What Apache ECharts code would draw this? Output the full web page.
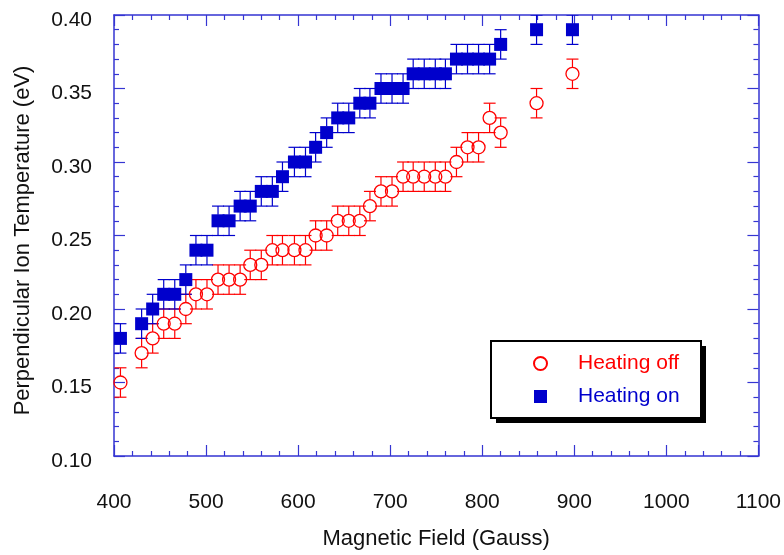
<!DOCTYPE html>
<html>
<head>
<meta charset="utf-8">
<title>Perpendicular Ion Temperature vs Magnetic Field</title>
<script src="https://cdn.jsdelivr.net/npm/echarts@6/dist/echarts.min.js"></script>
<style>
  html, body { margin: 0; padding: 0; background: #ffffff; }
  #chart { width: 784px; height: 555px; }
</style>
</head>
<body>
<div id="chart"></div>
<script>
// Magnetic field settings (Gauss) shared by both measurement runs
const fieldGauss = [407, 430, 442, 454, 466, 478, 489, 501, 513, 525, 537, 548, 560, 572, 583,
  596, 608, 619, 631, 643, 655, 667, 678, 690, 702, 714, 725, 737, 749, 760, 772, 784, 796,
  808, 820, 859, 898];

// Perpendicular ion temperature (eV), heating off
const tempHeatingOff = [0.15, 0.17, 0.18, 0.19, 0.19, 0.20, 0.21, 0.21, 0.22, 0.22, 0.22, 0.23,
  0.23, 0.24, 0.24, 0.24, 0.24, 0.25, 0.25, 0.26, 0.26, 0.26, 0.27, 0.28, 0.28, 0.29, 0.29,
  0.29, 0.29, 0.29, 0.30, 0.31, 0.31, 0.33, 0.32, 0.34, 0.36];

// Perpendicular ion temperature (eV), heating on
const tempHeatingOn = [0.18, 0.19, 0.20, 0.21, 0.21, 0.22, 0.24, 0.24, 0.26, 0.26, 0.27, 0.27,
  0.28, 0.28, 0.29, 0.30, 0.30, 0.31, 0.32, 0.33, 0.33, 0.34, 0.34, 0.35, 0.35, 0.35, 0.36,
  0.36, 0.36, 0.36, 0.37, 0.37, 0.37, 0.37, 0.38, 0.39, 0.39];

// Measurement uncertainty (eV) for each run
const errHeatingOff = 0.01;
const errHeatingOn = 0.01;

// Axis ranges and labels
const xRange = [400, 1100];
const xStep = 100;
const yRange = [0.10, 0.40];
const yStep = 0.05;
const seriesNames = ['Heating off', 'Heating on'];
const xTitle = 'Magnetic Field (Gauss)';
const yTitle = 'Perpendicular Ion Temperature (eV)';

const RED = '#ff0000';
const BLUE = '#0000cc';
const FRAME = '#3535d2';
const FONT = '"Liberation Sans", Arial, Helvetica, sans-serif';

function points(ys) {
  return fieldGauss.map((x, i) => [x, ys[i]]);
}
function bars(ys, err) {
  return fieldGauss.map((x, i) => [x, ys[i] - err, ys[i] + err, ys[i]]);
}

// Error bar: vertical whisker with caps, kept outside the marker body
function errorBarRenderer(color, markerHalf) {
  return function (params, api) {
    const x = api.value(0);
    const lo = api.coord([x, api.value(1)]);
    const hi = api.coord([x, api.value(2)]);
    const mid = api.coord([x, api.value(3)]);
    const half = 6;
    const style = { stroke: color, lineWidth: 1.2 };
    const shapes = [
      { type: 'line', shape: { x1: hi[0], y1: hi[1], x2: mid[0], y2: mid[1] - markerHalf }, style },
      { type: 'line', shape: { x1: mid[0], y1: mid[1] + markerHalf, x2: lo[0], y2: lo[1] }, style },
      { type: 'line', shape: { x1: hi[0] - half, y1: hi[1], x2: hi[0] + half, y2: hi[1] }, style },
      { type: 'line', shape: { x1: lo[0] - half, y1: lo[1], x2: lo[0] + half, y2: lo[1] }, style }
    ];
    return { type: 'group', children: shapes };
  };
}

const chart = echarts.init(document.getElementById('chart'), null, { renderer: 'canvas' });

const frameLine = { show: true, onZero: false, lineStyle: { color: FRAME, width: 1.5 } };
const tickX = { show: true, inside: true, length: 11, lineStyle: { color: FRAME, width: 1.2 } };
const minorX = { show: true, splitNumber: 5, length: 5, lineStyle: { color: FRAME, width: 1.2 } };

// Legend frame: white box with a solid drop shadow
const legendBox = { x: 491, y: 341, w: 210, h: 77, shadow: 5 };

const option = {
  backgroundColor: '#ffffff',
  animation: false,
  textStyle: { fontFamily: FONT },
  grid: { left: 114, right: 25, top: 15, bottom: 97, containLabel: false },
  graphic: [
    {
      type: 'rect', z: 90,
      shape: { x: legendBox.x + legendBox.shadow, y: legendBox.y + legendBox.shadow, width: legendBox.w, height: legendBox.h },
      style: { fill: '#000000' }
    },
    {
      type: 'rect', z: 91,
      shape: { x: legendBox.x, y: legendBox.y, width: legendBox.w, height: legendBox.h },
      style: { fill: '#ffffff', stroke: '#000000', lineWidth: 2 }
    }
  ],
  xAxis: [
    {
      type: 'value', position: 'bottom',
      min: xRange[0], max: xRange[1], interval: xStep,
      name: xTitle, nameLocation: 'middle', nameGap: 72,
      nameTextStyle: { fontSize: 22, color: '#111', fontFamily: FONT },
      axisLine: frameLine, axisTick: tickX, minorTick: minorX,
      splitLine: { show: false },
      axisLabel: { fontSize: 21, color: '#111', margin: 36, fontFamily: FONT, formatter: v => String(v) }
    },
    {
      type: 'value', position: 'top',
      min: xRange[0], max: xRange[1], interval: xStep,
      axisLine: frameLine, axisTick: tickX, minorTick: minorX,
      splitLine: { show: false }, axisLabel: { show: false }
    }
  ],
  yAxis: [
    {
      type: 'value', position: 'left',
      min: yRange[0], max: yRange[1], interval: yStep,
      name: yTitle, nameLocation: 'middle', nameGap: 80,
      nameTextStyle: { fontSize: 22, color: '#111', fontFamily: FONT, padding: [0, 10, 0, 0] },
      axisLine: frameLine, axisTick: tickX, minorTick: minorX,
      splitLine: { show: false },
      axisLabel: {
        fontSize: 21, color: '#111', margin: 22, fontFamily: FONT,
        verticalAlign: 'top', lineHeight: 10,
        formatter: v => v.toFixed(2)
      }
    },
    {
      type: 'value', position: 'right',
      min: yRange[0], max: yRange[1], interval: yStep,
      axisLine: frameLine, axisTick: tickX, minorTick: minorX,
      splitLine: { show: false }, axisLabel: { show: false }
    }
  ],
  legend: {
    orient: 'vertical',
    left: 491, top: 341,
    padding: [12, 21, 10, 42],
    itemGap: 12,
    itemWidth: 13, itemHeight: 13,
    z: 95,
    backgroundColor: 'transparent',
    borderWidth: 0,
    textStyle: { fontSize: 21, fontFamily: FONT, padding: [0, 0, 0, 26] },
    data: [
      { name: seriesNames[0], icon: 'circle', textStyle: { color: RED } },
      { name: seriesNames[1], icon: 'rect', textStyle: { color: BLUE } }
    ]
  },
  series: [
    {
      type: 'custom', name: 'off-err', xAxisIndex: 0, yAxisIndex: 0, clip: true,
      renderItem: errorBarRenderer(RED, 6.5),
      encode: { x: 0, y: [1, 2] },
      data: bars(tempHeatingOff, errHeatingOff), silent: true, z: 2
    },
    {
      type: 'custom', name: 'on-err', xAxisIndex: 0, yAxisIndex: 0, clip: true,
      renderItem: errorBarRenderer(BLUE, 6),
      encode: { x: 0, y: [1, 2] },
      data: bars(tempHeatingOn, errHeatingOn), silent: true, z: 2
    },
    {
      type: 'scatter', name: seriesNames[0], xAxisIndex: 0, yAxisIndex: 0,
      symbol: 'circle', symbolSize: 13,
      itemStyle: { color: 'rgba(255,255,255,0)', borderColor: RED, borderWidth: 1.3, opacity: 1 },
      data: points(tempHeatingOff), z: 3
    },
    {
      type: 'scatter', name: seriesNames[1], xAxisIndex: 0, yAxisIndex: 0,
      symbol: 'rect', symbolSize: [13, 13],
      itemStyle: { color: BLUE, opacity: 1 },
      data: points(tempHeatingOn), z: 3
    }
  ]
};

chart.setOption(option);
</script>
</body>
</html>
